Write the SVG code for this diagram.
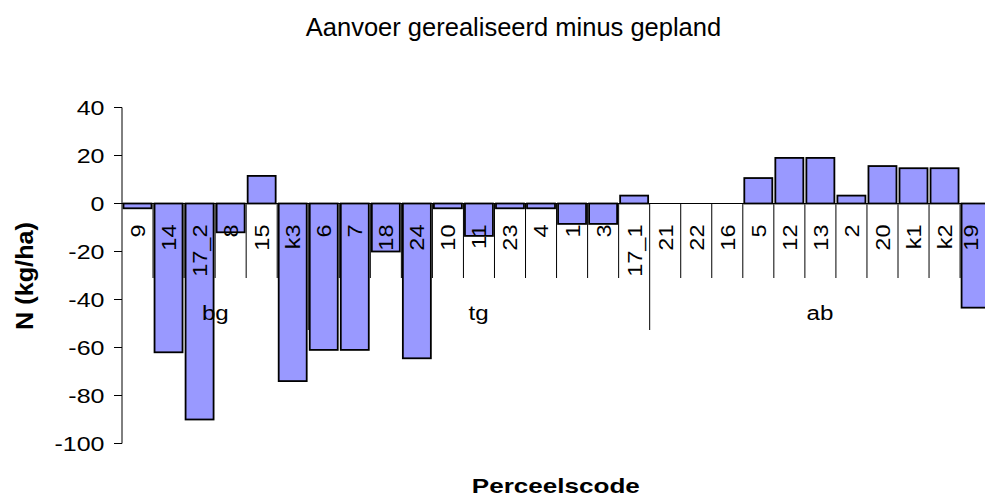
<svg xmlns="http://www.w3.org/2000/svg" width="985" height="495" viewBox="0 0 985 495">
<style>
text{font-family:"Liberation Sans",Arial,sans-serif;fill:#000}
.title{font-size:25.5px}
.atitle{font-size:24px;font-weight:bold}
.xtitle{font-size:21px;font-weight:bold}
.tick{font-size:20.5px;text-anchor:end}
.cat{font-size:21px;text-anchor:end}
.grp{font-size:21px;text-anchor:middle}
.bar{fill:#9999FF;stroke:#000;stroke-width:1.8}
.ax{stroke:#000;stroke-width:1;fill:none}
</style>
<rect width="985" height="495" fill="#fff"/>
<text id="title" class="title" x="513.5" y="36" text-anchor="middle">Aanvoer gerealiseerd minus gepland</text>
<g id="y-axis">
<path class="ax" d="M122,107.5V443.5M114,107.5H122M114,155.5H122M114,203.5H122M114,251.5H122M114,299.5H122M114,347.5H122M114,395.5H122M114,443.5H122"/>
<text class="tick" transform="translate(104.5,115) scale(1.22,1)">40</text>
<text class="tick" transform="translate(104.5,163) scale(1.22,1)">20</text>
<text class="tick" transform="translate(104.5,211) scale(1.22,1)">0</text>
<text class="tick" transform="translate(104.5,259) scale(1.22,1)">-20</text>
<text class="tick" transform="translate(104.5,307) scale(1.22,1)">-40</text>
<text class="tick" transform="translate(104.5,355) scale(1.22,1)">-60</text>
<text class="tick" transform="translate(104.5,403) scale(1.22,1)">-80</text>
<text class="tick" transform="translate(104.5,451) scale(1.22,1)">-100</text>
<text class="atitle" transform="translate(33,330) rotate(-90)" textLength="108" lengthAdjust="spacingAndGlyphs">N (kg/ha)</text>
</g>
<g id="connectors">
<path class="ax" d="M122,203.5H985"/>
<path class="ax" d="M153.04,203.5V278M184.08,203.5V278M215.12,203.5V278M246.16,203.5V278M277.2,203.5V278M339.28,203.5V278M370.32,203.5V278M401.36,203.5V278M432.4,203.5V278M463.44,203.5V278M494.48,203.5V278M525.52,203.5V278M556.56,203.5V278M587.6,203.5V278M618.64,203.5V278M680.72,203.5V278M711.76,203.5V278M742.8,203.5V278M773.84,203.5V278M804.88,203.5V278M835.92,203.5V278M866.96,203.5V278M898,203.5V278M929.04,203.5V278M960.08,203.5V278"/>
<path class="ax" d="M308.24,203.5V330M649.68,203.5V330"/>
</g>
<g id="bars">
<rect id="bar-9" class="bar" x="123.5" y="203.5" width="28" height="4.8"/>
<rect id="bar-14" class="bar" x="154.54" y="203.5" width="28" height="148.8"/>
<rect id="bar-17_2" class="bar" x="185.58" y="203.5" width="28" height="216"/>
<rect id="bar-8" class="bar" x="216.62" y="203.5" width="28" height="28.8"/>
<rect id="bar-15" class="bar" x="247.66" y="175.9" width="28" height="27.6"/>
<rect id="bar-k3" class="bar" x="278.7" y="203.5" width="28" height="177.6"/>
<rect id="bar-6" class="bar" x="309.74" y="203.5" width="28" height="146.4"/>
<rect id="bar-7" class="bar" x="340.78" y="203.5" width="28" height="146.4"/>
<rect id="bar-18" class="bar" x="371.82" y="203.5" width="28" height="48"/>
<rect id="bar-24" class="bar" x="402.86" y="203.5" width="28" height="154.8"/>
<rect id="bar-10" class="bar" x="433.9" y="203.5" width="28" height="4.8"/>
<rect id="bar-11" class="bar" x="464.94" y="203.5" width="28" height="32.4"/>
<rect id="bar-23" class="bar" x="495.98" y="203.5" width="28" height="4.8"/>
<rect id="bar-4" class="bar" x="527.02" y="203.5" width="28" height="4.8"/>
<rect id="bar-1" class="bar" x="558.06" y="203.5" width="28" height="20.4"/>
<rect id="bar-3" class="bar" x="589.1" y="203.5" width="28" height="20.4"/>
<rect id="bar-17_1" class="bar" x="620.14" y="195.6" width="28" height="7.9"/>
<rect id="bar-5" class="bar" x="744.3" y="178.06" width="28" height="25.44"/>
<rect id="bar-12" class="bar" x="775.34" y="157.9" width="28" height="45.6"/>
<rect id="bar-13" class="bar" x="806.38" y="157.9" width="28" height="45.6"/>
<rect id="bar-2" class="bar" x="837.42" y="195.6" width="28" height="7.9"/>
<rect id="bar-20" class="bar" x="868.46" y="166.06" width="28" height="37.44"/>
<rect id="bar-k1" class="bar" x="899.5" y="168.22" width="28" height="35.28"/>
<rect id="bar-k2" class="bar" x="930.54" y="168.22" width="28" height="35.28"/>
<rect id="bar-19" class="bar" x="961.58" y="203.5" width="28" height="104.16"/>
</g>
<g id="category-labels">
<text class="cat" transform="translate(144.9,224.5) rotate(-90) scale(1.12,1)">9</text>
<text class="cat" transform="translate(176,224.5) rotate(-90) scale(1.12,1)">14</text>
<text class="cat" transform="translate(207,224.5) rotate(-90) scale(1.12,1)">17_2</text>
<text class="cat" transform="translate(238,224.5) rotate(-90) scale(1.12,1)">8</text>
<text class="cat" transform="translate(269.1,224.5) rotate(-90) scale(1.12,1)">15</text>
<text class="cat" transform="translate(300.1,224.5) rotate(-90) scale(1.12,1)">k3</text>
<text class="cat" transform="translate(331.2,224.5) rotate(-90) scale(1.12,1)">6</text>
<text class="cat" transform="translate(362.2,224.5) rotate(-90) scale(1.12,1)">7</text>
<text class="cat" transform="translate(393.2,224.5) rotate(-90) scale(1.12,1)">18</text>
<text class="cat" transform="translate(424.3,224.5) rotate(-90) scale(1.12,1)">24</text>
<text class="cat" transform="translate(455.3,224.5) rotate(-90) scale(1.12,1)">10</text>
<text class="cat" transform="translate(486.4,224.5) rotate(-90) scale(1.12,1)">11</text>
<text class="cat" transform="translate(517.4,224.5) rotate(-90) scale(1.12,1)">23</text>
<text class="cat" transform="translate(548.4,224.5) rotate(-90) scale(1.12,1)">4</text>
<text class="cat" transform="translate(579.5,224.5) rotate(-90) scale(1.12,1)">1</text>
<text class="cat" transform="translate(610.5,224.5) rotate(-90) scale(1.12,1)">3</text>
<text class="cat" transform="translate(641.6,224.5) rotate(-90) scale(1.12,1)">17_1</text>
<text class="cat" transform="translate(672.6,224.5) rotate(-90) scale(1.12,1)">21</text>
<text class="cat" transform="translate(703.6,224.5) rotate(-90) scale(1.12,1)">22</text>
<text class="cat" transform="translate(734.7,224.5) rotate(-90) scale(1.12,1)">16</text>
<text class="cat" transform="translate(765.7,224.5) rotate(-90) scale(1.12,1)">5</text>
<text class="cat" transform="translate(796.8,224.5) rotate(-90) scale(1.12,1)">12</text>
<text class="cat" transform="translate(827.8,224.5) rotate(-90) scale(1.12,1)">13</text>
<text class="cat" transform="translate(858.8,224.5) rotate(-90) scale(1.12,1)">2</text>
<text class="cat" transform="translate(889.9,224.5) rotate(-90) scale(1.12,1)">20</text>
<text class="cat" transform="translate(920.9,224.5) rotate(-90) scale(1.12,1)">k1</text>
<text class="cat" transform="translate(952,224.5) rotate(-90) scale(1.12,1)">k2</text>
<text class="cat" transform="translate(977.5,224.5) rotate(-90) scale(1.12,1)">19</text>
</g>
<g id="group-labels">
<text class="grp" transform="translate(215.3,320) scale(1.15,1)">bg</text>
<text class="grp" transform="translate(478.5,320) scale(1.15,1)">tg</text>
<text class="grp" transform="translate(820,320) scale(1.15,1)">ab</text>
</g>
<text id="x-title" class="xtitle" x="471.8" y="492.6" textLength="168" lengthAdjust="spacingAndGlyphs">Perceelscode</text>
</svg>
